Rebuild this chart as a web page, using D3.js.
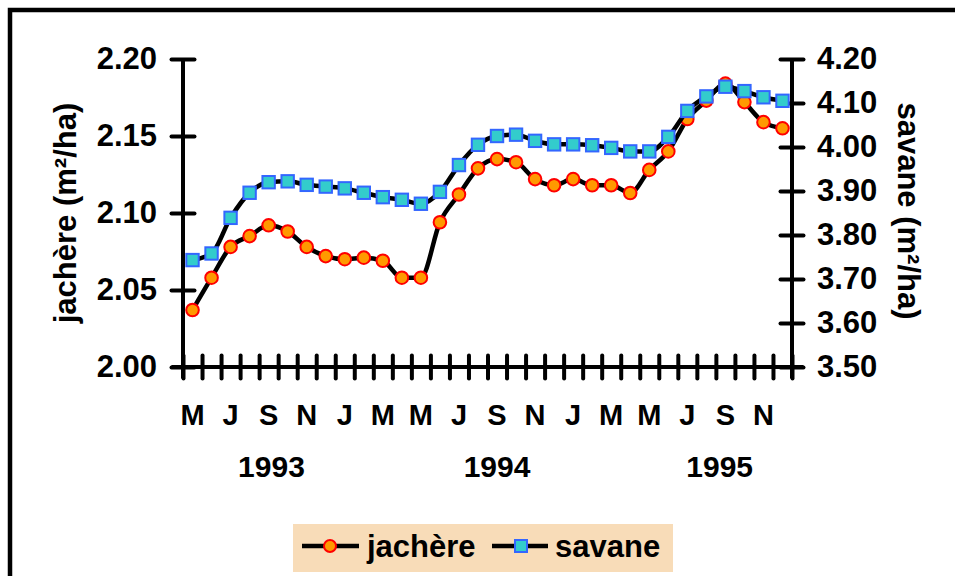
<!DOCTYPE html>
<html lang="fr">
	<head>
		<meta charset="utf-8">
		<title>jachère / savane</title>
		<script src="https://d3js.org/d3.v7.min.js"></script>
		<style type="text/css">
			body { margin: 0; background: #fff; }
			text { font-family: "Liberation Sans", Arial, sans-serif; font-weight: bold; fill: #000; }
		</style>
	</head>
	<body>
		<script type="text/javascript">
			var width = 955;
			var height = 576;

			// data, May 1993 -> Dec 1995
			var months = ["M","J","J","A","S","O","N","D",
						  "J","F","M","A","M","J","J","A","S","O","N","D",
						  "J","F","M","A","M","J","J","A","S","O","N","D"];
			var jachere = [2.037, 2.058, 2.078, 2.085, 2.092, 2.088, 2.078, 2.072,
						   2.070, 2.071, 2.069, 2.058, 2.058, 2.094, 2.112, 2.129,
						   2.135, 2.133, 2.122, 2.118, 2.122, 2.118, 2.118, 2.113,
						   2.128, 2.140, 2.161, 2.173, 2.184, 2.172, 2.159, 2.155];
			var savane = [3.743, 3.758, 3.839, 3.896, 3.920, 3.922, 3.914, 3.910,
						  3.906, 3.896, 3.886, 3.880, 3.871, 3.898, 3.959, 4.005,
						  4.025, 4.028, 4.014, 4.006, 4.006, 4.004, 3.998, 3.990,
						  3.990, 4.023, 4.082, 4.115, 4.137, 4.127, 4.113, 4.105];
			var years = ["1993", "1994", "1995"];
			var yearAt = [4.15, 16, 27.7];   // month index under which the year sits
			var leftTicks = [2.00, 2.05, 2.10, 2.15, 2.20];
			var rightTicks = [3.50, 3.60, 3.70, 3.80, 3.90, 4.00, 4.10, 4.20];

			var plotL = 183, plotR = 792, plotT = 59, plotB = 367;

			var x = d3.scaleLinear()
				.domain([-0.5, months.length - 0.5])
				.range([plotL, plotR]);
			var yL = d3.scaleLinear().domain([2.0, 2.2]).range([plotB, plotT]);
			var yR = d3.scaleLinear().domain([3.5, 4.2]).range([plotB, plotT]);

			var svg = d3.select("body")
				.append("svg")
				.attr("width", width)
				.attr("height", height);

			// outer frame
			svg.append("rect")
				.attr("x", 10).attr("y", 10)
				.attr("width", 960).attr("height", 600)
				.attr("fill", "none")
				.attr("stroke", "#000")
				.attr("stroke-width", 4.5);

			function styleAxis(g) {
				g.select(".domain").remove();
				g.selectAll("line")
					.attr("stroke", "#000")
					.attr("stroke-width", 4)
					.attr("stroke-linecap", "round");
				g.selectAll("text").attr("font-size", "31px");
			}

			// x axis (ticks between months)
			var xAxis = d3.axisBottom(x)
				.tickValues(d3.range(-0.5, months.length, 1))
				.tickFormat("")
				.tickSize(11.5);
			svg.append("g")
				.attr("transform", "translate(0," + plotB + ")")
				.call(xAxis)
				.call(styleAxis)
				.selectAll("line").attr("y1", -11.5);
			svg.append("line")
				.attr("x1", plotL - 11.5).attr("x2", plotR + 11.5)
				.attr("y1", plotB).attr("y2", plotB)
				.attr("stroke", "#000").attr("stroke-width", 4);

			// left axis
			var leftAxis = d3.axisLeft(yL)
				.tickValues(leftTicks)
				.tickFormat(d3.format(".2f"))
				.tickSize(11.5);
			var gL = svg.append("g")
				.attr("transform", "translate(" + plotL + ",0)")
				.call(leftAxis)
				.call(styleAxis);
			gL.selectAll("line").attr("x1", 11.5);
			gL.selectAll("text").attr("x", -26);
			svg.append("line")
				.attr("x1", plotL).attr("x2", plotL)
				.attr("y1", plotT).attr("y2", plotB + 11.5)
				.attr("stroke", "#000").attr("stroke-width", 4);

			// right axis
			var rightAxis = d3.axisRight(yR)
				.tickValues(rightTicks)
				.tickFormat(d3.format(".2f"))
				.tickSize(11.5);
			var gR = svg.append("g")
				.attr("transform", "translate(" + plotR + ",0)")
				.call(rightAxis)
				.call(styleAxis);
			gR.selectAll("line").attr("x1", -11.5);
			gR.selectAll("text").attr("x", 25);
			svg.append("line")
				.attr("x1", plotR).attr("x2", plotR)
				.attr("y1", plotT).attr("y2", plotB + 11.5)
				.attr("stroke", "#000").attr("stroke-width", 4);

			// month letters, every other month
			svg.selectAll(".month")
				.data(months)
				.enter()
				.filter(function(d, i) { return i % 2 === 0; })
				.append("text")
				.attr("class", "month")
				.attr("x", function(d, i) { return x(i * 2); })
				.attr("y", 425)
				.attr("text-anchor", "middle")
				.attr("font-size", "29px")
				.text(function(d) { return d; });

			svg.selectAll(".year")
				.data(years)
				.enter()
				.append("text")
				.attr("class", "year")
				.attr("x", function(d, i) { return x(yearAt[i]); })
				.attr("y", 477)
				.attr("text-anchor", "middle")
				.attr("font-size", "30px")
				.text(function(d) { return d; });

			// axis titles
			svg.append("text")
				.attr("transform", "translate(76,213) rotate(-90)")
				.attr("text-anchor", "middle")
				.attr("font-size", "31px")
				.text("jachère (m²/ha)");
			svg.append("text")
				.attr("transform", "translate(898,211) rotate(90)")
				.attr("text-anchor", "middle")
				.attr("font-size", "31px")
				.text("savane (m²/ha)");

			var curve = d3.curveMonotoneX;

			// jachère series
			svg.append("path")
				.datum(jachere)
				.attr("d", d3.line()
					.x(function(d, i) { return x(i); })
					.y(function(d) { return yL(d); })
					.curve(curve))
				.attr("fill", "none")
				.attr("stroke", "#000")
				.attr("stroke-width", 4.5);
			svg.selectAll(".jac")
				.data(jachere)
				.enter()
				.append("circle")
				.attr("class", "jac")
				.attr("cx", function(d, i) { return x(i); })
				.attr("cy", function(d) { return yL(d); })
				.attr("r", 6.3)
				.attr("fill", "#ff9900")
				.attr("stroke", "#ff0000")
				.attr("stroke-width", 2);

			// savane series
			svg.append("path")
				.datum(savane)
				.attr("d", d3.line()
					.x(function(d, i) { return x(i); })
					.y(function(d) { return yR(d); })
					.curve(curve))
				.attr("fill", "none")
				.attr("stroke", "#000")
				.attr("stroke-width", 4.5);
			svg.selectAll(".sav")
				.data(savane)
				.enter()
				.append("rect")
				.attr("class", "sav")
				.attr("x", function(d, i) { return x(i) - 6.2; })
				.attr("y", function(d) { return yR(d) - 6.2; })
				.attr("width", 12.4)
				.attr("height", 12.4)
				.attr("fill", "#33cccc")
				.attr("stroke", "#3366ff")
				.attr("stroke-width", 2);

			// legend
			var legend = svg.append("g");
			legend.append("rect")
				.attr("x", 293).attr("y", 524)
				.attr("width", 380).attr("height", 48)
				.attr("fill", "#f8dcb8");
			legend.append("line")
				.attr("x1", 302).attr("x2", 359).attr("y1", 546).attr("y2", 546)
				.attr("stroke", "#000").attr("stroke-width", 4.5);
			legend.append("circle")
				.attr("cx", 330).attr("cy", 546).attr("r", 6)
				.attr("fill", "#ff9900").attr("stroke", "#ff0000").attr("stroke-width", 2);
			legend.append("text")
				.attr("x", 367).attr("y", 557)
				.attr("font-size", "31px")
				.text("jachère");
			legend.append("line")
				.attr("x1", 492).attr("x2", 548).attr("y1", 546).attr("y2", 546)
				.attr("stroke", "#000").attr("stroke-width", 4.5);
			legend.append("rect")
				.attr("x", 515).attr("y", 540).attr("width", 12).attr("height", 12)
				.attr("fill", "#33cccc").attr("stroke", "#3366ff").attr("stroke-width", 2);
			legend.append("text")
				.attr("x", 555).attr("y", 557)
				.attr("font-size", "31px")
				.text("savane");
		</script>
	</body>
</html>
